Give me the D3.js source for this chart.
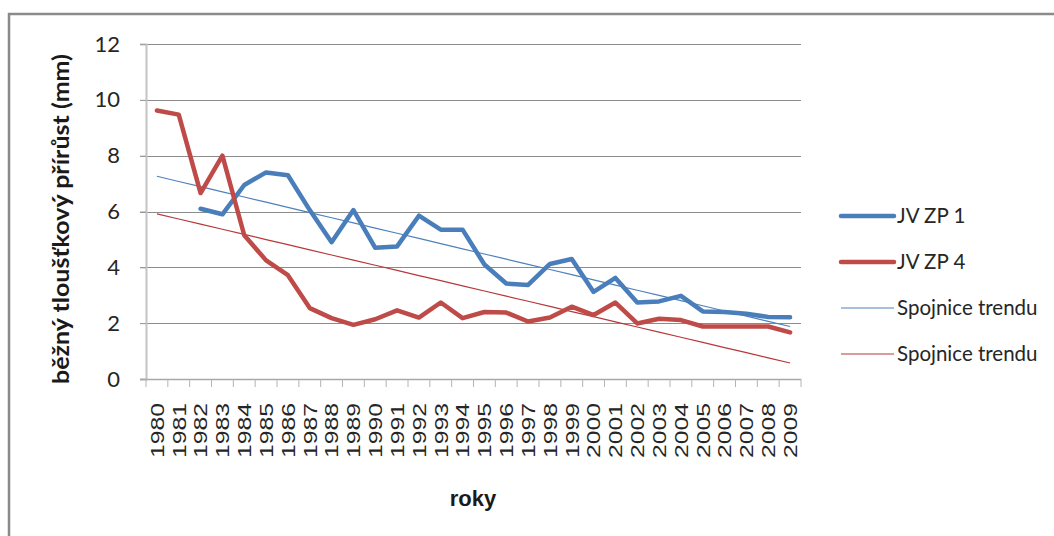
<!DOCTYPE html>
<html>
<head>
<meta charset="utf-8">
<script src="https://cdn.jsdelivr.net/npm/d3@7"></script>
<style>
  html, body { margin: 0; padding: 0; background: #fff; }
  svg { display: block; }
</style>
</head>
<body>
<svg id="chart" width="1054" height="536"></svg>
<script>
// Years on the category axis
const years = [1980, 1981, 1982, 1983, 1984, 1985, 1986, 1987, 1988, 1989,
               1990, 1991, 1992, 1993, 1994, 1995, 1996, 1997, 1998, 1999,
               2000, 2001, 2002, 2003, 2004, 2005, 2006, 2007, 2008, 2009];

// Annual diameter increment (mm), plot JV ZP 1 (no record before 1982)
const zp1 = [null, null, 6.1, 5.9, 6.95, 7.4, 7.3, 6.05, 4.9, 6.05,
             4.7, 4.75, 5.85, 5.35, 5.35, 4.1, 3.42, 3.37, 4.12, 4.3,
             3.12, 3.62, 2.74, 2.78, 2.98, 2.42, 2.4, 2.34, 2.22, 2.21];

// Annual diameter increment (mm), plot JV ZP 4
const zp4 = [9.62, 9.47, 6.66, 8.0, 5.15, 4.25, 3.72, 2.54, 2.18, 1.94,
             2.14, 2.46, 2.2, 2.74, 2.18, 2.4, 2.38, 2.06, 2.2, 2.59,
             2.29, 2.74, 1.99, 2.16, 2.11, 1.88, 1.88, 1.88, 1.88, 1.67];

const yTicks = [0, 2, 4, 6, 8, 10, 12];

const seriesNames = ["JV ZP 1", "JV ZP 4"];
const trendName = "Spojnice trendu";
const yTitle = "běžný tloušťkový přírůst (mm)";
const xTitle = "roky";

const colors = { zp1: "#4a7ebb", zp4: "#be4b48", trend1: "#4f81bd", trend4: "#b8383a" };

const svg = d3.select("#chart");

// chart frame (top and left edges visible)
svg.append("path")
  .attr("d", "M9,536 L9,14 L1054,14")
  .attr("fill", "none")
  .attr("stroke", "#8a8a8a")
  .attr("stroke-width", 2.5);

const plot = { left: 146, right: 801, top: 44, bottom: 379 };

const x = d3.scaleBand().domain(years).range([plot.left, plot.right]).padding(0);
const y = d3.scaleLinear().domain([0, 12]).range([plot.bottom, plot.top]);
const cx = yr => x(yr) + x.bandwidth() / 2;

// horizontal gridlines
svg.append("g")
  .selectAll("line")
  .data(yTicks.filter(t => t > 0))
  .join("line")
  .attr("x1", plot.left - 6)
  .attr("x2", plot.right)
  .attr("y1", d => Math.round(y(d)) + 0.5)
  .attr("y2", d => Math.round(y(d)) + 0.5)
  .attr("stroke", "#8c8c8c")
  .attr("stroke-width", 1);

// y axis
const yAxis = svg.append("g")
  .attr("transform", `translate(${plot.left},0)`)
  .call(d3.axisLeft(y).tickValues(yTicks).tickSize(6).tickPadding(20));
yAxis.select(".domain").attr("stroke", "#c4c4c4").attr("stroke-width", 2);
yAxis.selectAll(".tick line").attr("stroke", "#a0a0a0");
yAxis.selectAll(".tick text")
  .attr("font-family", "Lato, 'Open Sans', sans-serif")
  .attr("font-size", 22)
  .attr("fill", "#262626");

// x axis: line, ticks between categories, rotated year labels
const xg = svg.append("g");
xg.append("line")
  .attr("x1", plot.left - 6).attr("x2", plot.right)
  .attr("y1", plot.bottom + 0.5).attr("y2", plot.bottom + 0.5)
  .attr("stroke", "#a8a8a8").attr("stroke-width", 1.5);
xg.selectAll("line.tk")
  .data(years.concat([null]))
  .join("line")
  .attr("class", "tk")
  .attr("x1", (d, i) => plot.left + i * x.bandwidth())
  .attr("x2", (d, i) => plot.left + i * x.bandwidth())
  .attr("y1", plot.bottom)
  .attr("y2", plot.bottom + 8)
  .attr("stroke", "#b4b4b4");
xg.selectAll("text.yr")
  .data(years)
  .join("text")
  .attr("class", "yr")
  .attr("transform", d => `translate(${cx(d)},${plot.bottom + 24}) rotate(-90)`)
  .attr("text-anchor", "end")
  .attr("dy", "0.36em")
  .attr("font-family", "'Liberation Sans', Arial, sans-serif")
  .attr("font-size", 19)
  .attr("textLength", 55)
  .attr("lengthAdjust", "spacingAndGlyphs")
  .attr("fill", "#262626")
  .text(d => d);

// axis titles
svg.append("text")
  .attr("transform", "translate(61,219) rotate(-90)")
  .attr("text-anchor", "middle")
  .attr("dy", "0.35em")
  .attr("font-family", "Lato, 'Open Sans', sans-serif")
  .attr("font-weight", "bold")
  .attr("font-size", 22)
  .attr("textLength", 330)
  .attr("lengthAdjust", "spacingAndGlyphs")
  .attr("fill", "#1a1a1a")
  .text(yTitle);

svg.append("text")
  .attr("x", 473)
  .attr("y", 506)
  .attr("text-anchor", "middle")
  .attr("font-family", "'Liberation Sans Narrow', 'Liberation Sans', Arial, sans-serif")
  .attr("font-weight", "bold")
  .attr("font-size", 22)
  .attr("fill", "#1a1a1a")
  .text(xTitle);

// least-squares linear trend over category index
function trend(values) {
  const pts = values.map((v, i) => [i, v]).filter(p => p[1] != null);
  const mx = d3.mean(pts, p => p[0]);
  const my = d3.mean(pts, p => p[1]);
  const sxy = d3.sum(pts, p => (p[0] - mx) * (p[1] - my));
  const sxx = d3.sum(pts, p => (p[0] - mx) ** 2);
  const b = sxy / sxx;
  const a = my - b * mx;
  return values.map((v, i) => a + b * i);
}

const line = d3.line()
  .defined(d => d[1] != null)
  .x(d => cx(d[0]))
  .y(d => y(d[1]));

const pairs = vals => years.map((yr, i) => [yr, vals[i]]);

// trend lines
svg.append("path")
  .attr("d", line(pairs(trend(zp1))))
  .attr("fill", "none")
  .attr("stroke", colors.trend1)
  .attr("stroke-width", 1.2);
svg.append("path")
  .attr("d", line(pairs(trend(zp4))))
  .attr("fill", "none")
  .attr("stroke", colors.trend4)
  .attr("stroke-width", 1.2);

// data series
svg.append("path")
  .attr("d", line(pairs(zp1)))
  .attr("fill", "none")
  .attr("stroke", colors.zp1)
  .attr("stroke-width", 4.5)
  .attr("stroke-linejoin", "round")
  .attr("stroke-linecap", "round");
svg.append("path")
  .attr("d", line(pairs(zp4)))
  .attr("fill", "none")
  .attr("stroke", colors.zp4)
  .attr("stroke-width", 4.5)
  .attr("stroke-linejoin", "round")
  .attr("stroke-linecap", "round");

// legend
const legendItems = [
  { name: seriesNames[0], color: colors.zp1, w: 4.5, y: 216 },
  { name: seriesNames[1], color: colors.zp4, w: 4.5, y: 262 },
  { name: trendName, color: colors.trend1, w: 1.2, y: 308 },
  { name: trendName, color: colors.trend4, w: 1.2, y: 354 }
];
const lg = svg.append("g");
lg.selectAll("line")
  .data(legendItems)
  .join("line")
  .attr("x1", 841).attr("x2", 894)
  .attr("y1", d => d.y).attr("y2", d => d.y)
  .attr("stroke", d => d.color)
  .attr("stroke-width", d => d.w)
  .attr("stroke-linecap", d => d.w > 2 ? "round" : "butt");
lg.selectAll("text")
  .data(legendItems)
  .join("text")
  .attr("x", 897)
  .attr("y", d => d.y)
  .attr("dy", "0.35em")
  .attr("font-family", "Lato, 'Open Sans', sans-serif")
  .attr("font-size", 20.5)
  .attr("fill", "#262626")
  .text(d => d.name);
</script>
</body>
</html>
